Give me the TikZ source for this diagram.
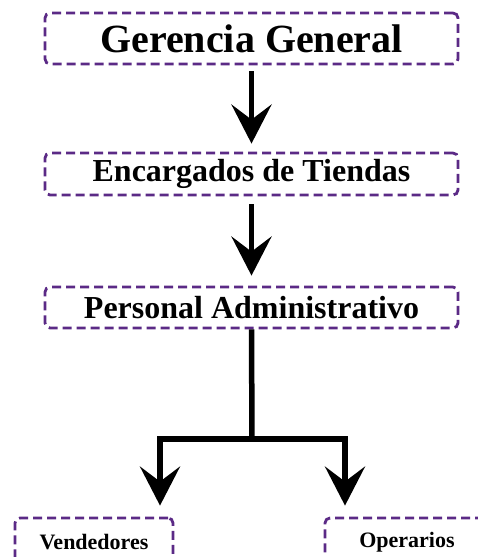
\documentclass[tikz,border=0pt]{standalone}
\usepackage{fontspec}
\setmainfont{Liberation Serif}
\usepackage{tikz}
\usetikzlibrary{arrows.meta}

\definecolor{orgpurple}{HTML}{5B2A86}
\tikzset{
  orgbox/.style={draw=orgpurple, line width=2.8pt, dash pattern=on 9pt off 5pt,
    rounded corners=5pt, inner sep=0pt, font=\bfseries},
  flow/.style={draw=black, line width=5.5pt},
  flowtip/.style={-{Stealth[length=39pt, width=40pt, inset=15pt]}}
}

\begin{document}
\begin{tikzpicture}[x=1pt, y=-1pt]
                \useasboundingbox (0,0) rectangle (478,557);
                % boxes
                \node[orgbox, minimum width=413pt, minimum height=51pt] (gerencia) at (251.5,38.5) {\fontsize{40}{44}\selectfont Gerencia General};
                \node[orgbox, minimum width=413pt, minimum height=42pt] (encargados) at (251.5,174) {\fontsize{32}{36}\selectfont Encargados de Tiendas};
                \node[orgbox, minimum width=413pt, minimum height=41pt] (personal) at (251.5,307.5) {\fontsize{32}{36}\selectfont Personal Administrativo};
                \node[orgbox, minimum width=158pt, minimum height=48pt] (vendedores) at (94,542) {\fontsize{22}{26}\selectfont Vendedores};
                \node[orgbox, minimum width=164pt, minimum height=48pt] (operarios) at (407,542) {\fontsize{22}{26}\selectfont Operarios};
                % connectors
                \coordinate (split) at (252,439);
                \coordinate (leftx) at (160,439);
                \coordinate (rightx) at (345,439);
                \draw[flow, flowtip, shorten <=6pt, shorten >=8pt] (gerencia) -- (encargados);
                \draw[flow, flowtip, shorten <=8pt, shorten >=10pt] (encargados) -- (personal);
                \draw[flow] (personal.south) -- (split);
                \draw[flow, {Stealth[length=39pt, width=40pt, inset=15pt]}-{Stealth[length=39pt, width=40pt, inset=15pt]}, shorten <=11pt, shorten >=11pt]
                  (vendedores.north -| leftx) |- (split) -| (operarios.north -| rightx);
\end{tikzpicture}
\end{document}
